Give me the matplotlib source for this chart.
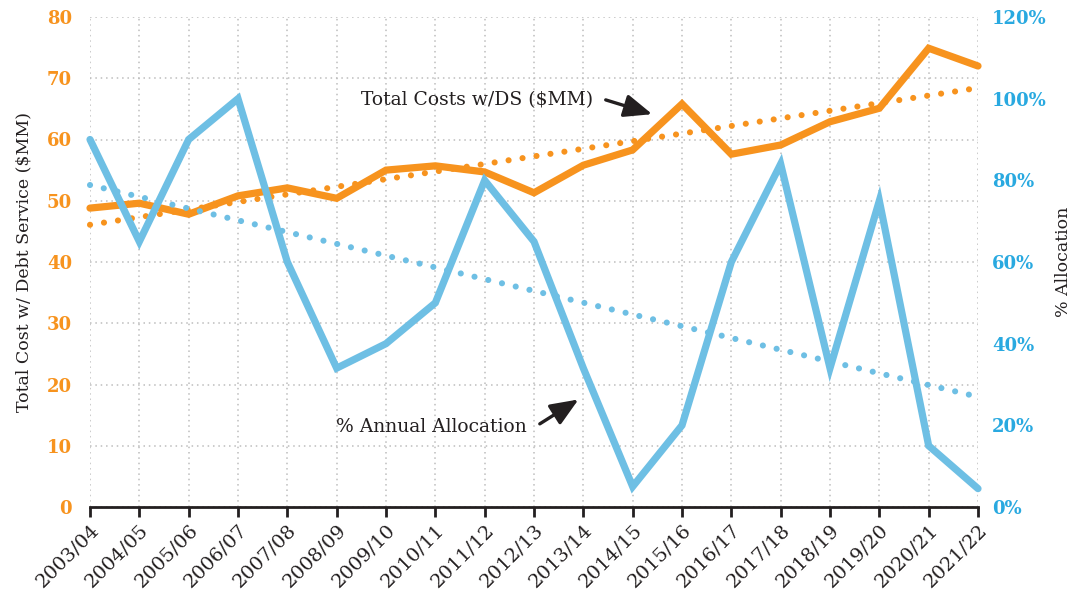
import matplotlib.pyplot as plt
import numpy as np
from matplotlib.ticker import FuncFormatter, MultipleLocator


ORANGE = "#F7931E"
BLUE = "#6EBFE4"
BLUE_TXT = "#29A9E0"
INK = "#231F20"
GRID = "#BDBDBD"

years = [
    "2003/04", "2004/05", "2005/06", "2006/07", "2007/08", "2008/09",
    "2009/10", "2010/11", "2011/12", "2012/13", "2013/14", "2014/15",
    "2015/16", "2016/17", "2017/18", "2018/19", "2019/20", "2020/21",
    "2021/22",
]
total_cost = [
    48.8, 49.6, 47.8, 50.8, 52.1, 50.4, 55.0, 55.7, 54.7, 51.3,
    55.8, 58.3, 65.8, 57.6, 59.1, 62.9, 65.1, 74.9, 72.0,
]
pct_alloc = [
    0.90, 0.65, 0.90, 1.00, 0.60, 0.34, 0.40, 0.50, 0.80, 0.65,
    0.34, 0.05, 0.20, 0.60, 0.84, 0.34, 0.75, 0.15, 0.045,
]

plt.rcParams["font.family"] = ["DejaVu Serif"]

x = np.arange(len(years))
# linear trend lines, as in the original spreadsheet chart
cost_fit = np.polyval(np.polyfit(x, total_cost, 1), x)
pct_fit = np.polyval(np.polyfit(x, pct_alloc, 1), x)

fig = plt.figure(figsize=(10.7, 5.92), dpi=100)
ax = fig.add_axes([90 / 1070, 85 / 592, 888 / 1070, 490 / 592])
ax2 = ax.twinx()

dots = (0, (0.01, 2.3))
ax.plot(x, cost_fit, color=ORANGE, lw=4.4, ls=dots, dash_capstyle="round", clip_on=False, zorder=3)
ax.plot(x, total_cost, color=ORANGE, lw=5.2, solid_capstyle="round", solid_joinstyle="miter", clip_on=False, zorder=4)
ax2.plot(x, pct_fit, color=BLUE, lw=4.4, ls=dots, dash_capstyle="round", clip_on=False, zorder=3)
ax2.plot(x, pct_alloc, color=BLUE, lw=5.2, solid_capstyle="round", solid_joinstyle="miter", clip_on=False, zorder=4)

ax.set_xlim(0, len(years) - 1)
ax.set_ylim(0, 80)
ax2.set_ylim(0, 1.2)
ax.yaxis.set_major_locator(MultipleLocator(10))
ax2.yaxis.set_major_locator(MultipleLocator(0.2))
ax2.yaxis.set_major_formatter(FuncFormatter(lambda v, p: f"{v * 100:.0f}%"))

ax.set_xticks(x)
ax.set_xticklabels(years, rotation=45, ha="right", rotation_mode="anchor", fontsize=14, color=INK)
ax.tick_params(axis="x", length=7, width=2, color=INK, pad=3)
ax.tick_params(axis="y", length=0, pad=13, labelsize=13, labelcolor=ORANGE)
ax2.tick_params(axis="y", length=0, pad=10, labelsize=13, labelcolor=BLUE_TXT)
for lab in ax.get_yticklabels() + ax2.get_yticklabels():
    lab.set_fontweight("bold")

ax.grid(True, color=GRID, ls=(0, (1, 2.5)), lw=1.1)
ax.set_axisbelow(True)
for a in (ax, ax2):
    for side in ("left", "right", "top"):
        a.spines[side].set_visible(False)
ax2.spines["bottom"].set_visible(False)
ax.spines["bottom"].set_linewidth(2)
ax.spines["bottom"].set_color(INK)

ax.set_ylabel("Total Cost w/ Debt Service ($MM)", fontsize=12.5, color=INK, labelpad=10)
ax2.set_ylabel("% Allocation", fontsize=12.5, color=INK, labelpad=6)

arrow = dict(arrowstyle="-|>,head_length=1.7,head_width=0.7", lw=2.4, color=INK)
ax.text(10.2, 66.4, "Total Costs w/DS ($MM)", ha="right", va="center", fontsize=13.5, color=INK, zorder=6)
ax.annotate("", xy=(11.45, 64.0), xytext=(10.4, 66.6), arrowprops=arrow, zorder=6)
ax.text(8.86, 13.1, "% Annual Allocation", ha="right", va="center", fontsize=13.5, color=INK, zorder=6)
ax2.annotate("", xy=(9.95, 0.267), xytext=(9.07, 0.20), arrowprops=arrow, zorder=6)

fig.savefig("out.png", dpi=100)
